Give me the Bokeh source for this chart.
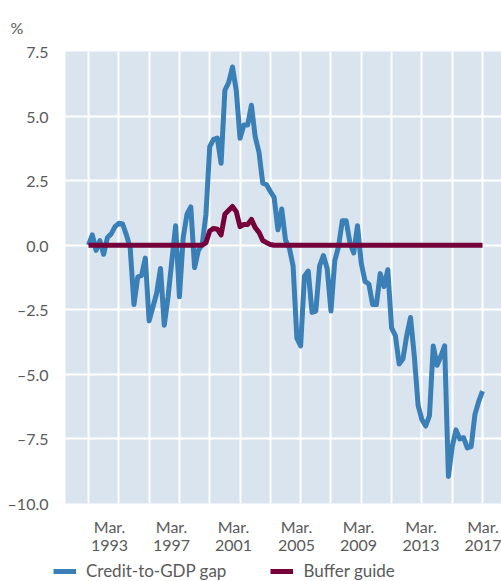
from bokeh.plotting import figure
from bokeh.layouts import column
from bokeh.models import FixedTicker, Legend, LegendItem, Range1d, Title
from bokeh.embed import file_html
from bokeh.resources import INLINE

# Quarterly observations, Mar. 1991 .. Mar. 2017 (x in years, Mar. quarter = .00)
start_year = 1991
n_quarters = 105
credit_gap = [
    0.0, 0.4, -0.2, 0.18, -0.35, 0.3, 0.44, 0.72, 0.85, 0.82,
    0.4, -0.1, -2.3, -1.23, -1.17, -0.5, -2.93, -2.4, -1.85, -0.9,
    -3.1, -2.0, -0.6, 0.75, -2.0, 0.3, 1.2, 1.48, -0.87, -0.2,
    0.02, 1.2, 3.82, 4.1, 4.15, 3.17, 6.0, 6.3, 6.9, 6.0,
    4.14, 4.65, 4.65, 5.42, 4.2, 3.6, 2.4, 2.34, 2.08, 1.85,
    0.6, 1.4, 0.2, -0.1, -0.8, -3.6, -3.9, -1.2, -1.0, -2.6,
    -2.55, -0.8, -0.4, -0.9, -2.55, -0.6, -0.05, 0.95, 0.95, 0.1,
    -0.3, 0.75, -0.7, -1.4, -1.5, -2.3, -2.3, -1.1, -1.6, -0.95,
    -3.2, -3.5, -4.6, -4.4, -3.5, -2.8, -4.3, -6.2, -6.75, -7.0,
    -6.6, -3.9, -4.65, -4.3, -3.9, -8.95, -7.8, -7.15, -7.5, -7.45,
    -7.85, -7.8, -6.55, -6.05, -5.65,
]
buffer_guide = [0.0] * 31 + [
    0.1, 0.55, 0.65, 0.62, 0.4, 1.2, 1.35, 1.5, 1.3, 0.72,
    0.8, 0.8, 1.0, 0.68, 0.5, 0.18, 0.1, 0.03,
] + [0.0] * 56

x_vals = [start_year + i / 4 for i in range(n_quarters)]

series_names = ["Credit-to-GDP gap", "Buffer guide"]
y_ticks = [-10, -7.5, -5, -2.5, 0, 2.5, 5, 7.5]
y_tick_labels = ["–10.0", "–7.5", "–5.0", "–2.5", "0.0", "2.5", "5.0", "7.5"]
x_tick_labels = ["Mar.\n1993", "Mar.\n1997", "Mar.\n2001", "Mar.\n2005",
                 "Mar.\n2009", "Mar.\n2013", "Mar.\n2017"]
x_label_pos = [1992.39, 1996.48, 2000.57, 2004.73, 2008.82, 2012.94, 2017.03]
x_grid = list(range(1991, 2018, 2))

BLUE = "#3a7fb6"
MAROON = "#75003a"
BG = "#dae4ef"
TXT = "#5a5a5a"
FONT = "Lato"

p = figure(width=501, height=560, output_backend="svg", toolbar_location=None,
           x_range=Range1d(1989.482, 2018.253), y_range=Range1d(-10, 7.5),
           min_border_left=65, min_border_right=0, min_border_top=49,
           min_border_bottom=57)
p.background_fill_color = BG
p.border_fill_color = "white"
p.outline_line_color = None

p.line(x_vals, credit_gap, line_color=BLUE, line_width=5, line_join="round")
p.line(x_vals, buffer_guide, line_color=MAROON, line_width=5, line_join="round")

# grid
p.xgrid.ticker = FixedTicker(ticks=x_grid)
p.ygrid.ticker = FixedTicker(ticks=y_ticks)
for g in (p.xgrid, p.ygrid):
    g.grid_line_color = "white"
    g.grid_line_width = 2
    g.grid_line_alpha = 1

# axes
p.xaxis.ticker = FixedTicker(ticks=x_label_pos)
p.xaxis.major_label_overrides = {x: t for x, t in zip(x_label_pos, x_tick_labels)}
p.yaxis.ticker = FixedTicker(ticks=y_ticks)
p.yaxis.major_label_overrides = {y: t for y, t in zip(y_ticks, y_tick_labels)}
for ax in (p.xaxis, p.yaxis):
    ax.axis_line_color = None
    ax.major_tick_line_color = None
    ax.minor_tick_line_color = None
    ax.major_tick_out = 0
    ax.major_tick_in = 0
    ax.major_label_text_font = FONT
    ax.major_label_text_font_size = "16px"
    ax.major_label_text_color = TXT
p.xaxis.major_label_text_line_height = 0.95
p.xaxis.major_label_standoff = 13
p.yaxis.major_label_standoff = 17

# "%" unit label
p.add_layout(Title(text="%", align="left", offset=-55, standoff=30,
                   text_font=FONT, text_font_size="16px", text_color=TXT,
                   text_font_style="normal"), "above")

# legend strip below the chart (its lines lie outside its visible y range;
# they only serve as legend keys)
lg = figure(width=501, height=21, output_backend="svg", toolbar_location=None,
            x_range=Range1d(1989.482, 2018.253), y_range=Range1d(20, 21),
            x_axis_location=None, y_axis_location=None,
            min_border_left=0, min_border_right=0, min_border_top=0,
            min_border_bottom=0)
if "frame_align" in lg.properties():
    lg.frame_align = False
lg.grid.visible = False
lg.outline_line_color = None
lg.background_fill_color = "white"
k1 = lg.line(x_vals, credit_gap, line_color=BLUE, line_width=5)
k2 = lg.line(x_vals, buffer_guide, line_color=MAROON, line_width=5)

legend = Legend(items=[LegendItem(label=series_names[0], renderers=[k1]),
                       LegendItem(label=series_names[1], renderers=[k2])],
                orientation="horizontal", location=(53, 0))
legend.background_fill_alpha = 0
legend.border_line_color = None
legend.padding = 0
legend.margin = 0
legend.glyph_width = 23
legend.glyph_height = 20
legend.label_standoff = 10
legend.spacing = 44
legend.label_text_font = FONT
legend.label_text_font_size = "17px"
legend.label_text_color = TXT
lg.add_layout(legend, "center")

layout = column(p, lg, spacing=0)
open("out.html", "w").write(file_html(layout, INLINE))
